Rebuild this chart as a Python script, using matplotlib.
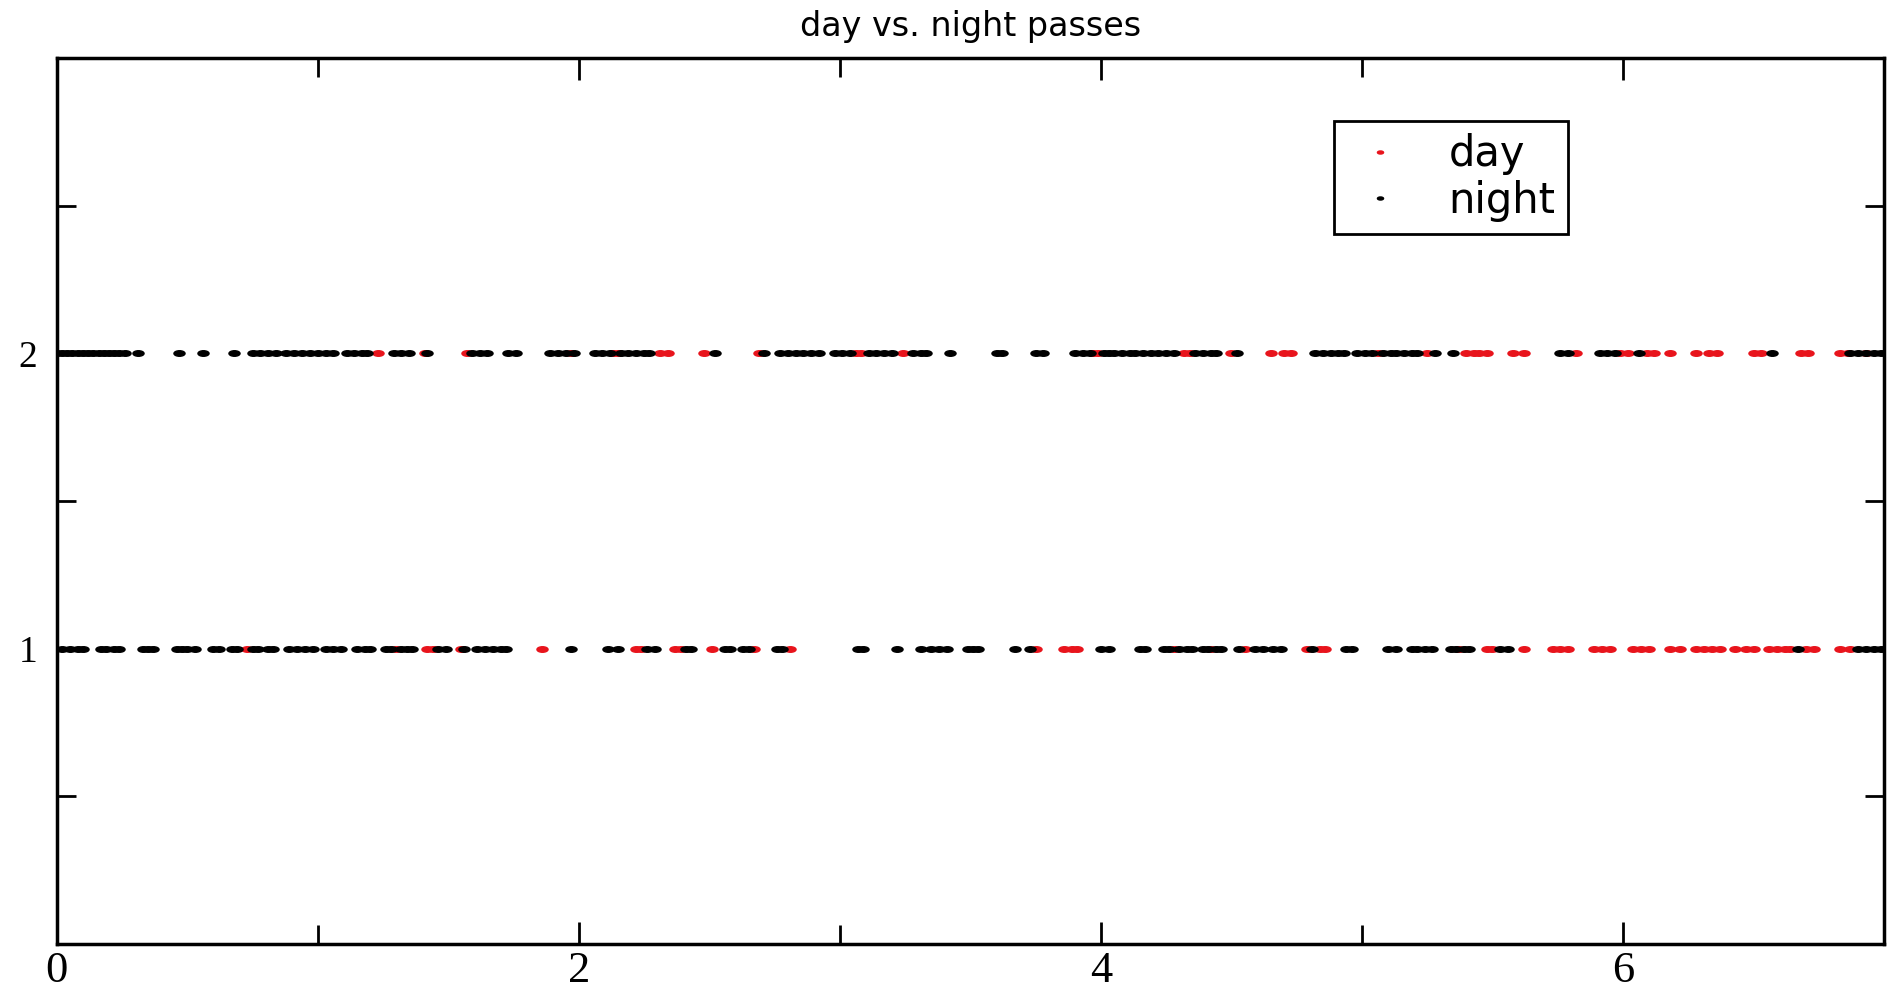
import matplotlib
matplotlib.use("Agg")
from matplotlib import pyplot as plt
from matplotlib.path import Path
from matplotlib.transforms import Affine2D
from matplotlib.ticker import MultipleLocator, FixedLocator

# pass times (x) on the "2" row and the "1" row, split by day / night
row2_night = [0.0, 0.02, 0.04, 0.06, 0.08, 0.10, 0.12, 0.14, 0.16, 0.18, 0.20, 0.22, 0.24, 0.26,
              0.31, 0.47, 0.56, 0.68, 0.75, 0.78, 0.81, 0.84, 0.88, 0.91, 0.94, 0.97, 1.00, 1.03,
              1.06, 1.11, 1.14, 1.17, 1.19, 1.29, 1.32, 1.35, 1.42, 1.59, 1.62, 1.65, 1.73, 1.76,
              1.89, 1.92, 1.95, 1.98, 2.06, 2.09, 2.12, 2.16, 2.19, 2.22, 2.25, 2.27, 2.52, 2.71,
              2.77, 2.80, 2.83, 2.86, 2.89, 2.92, 2.98, 3.01, 3.04, 3.11, 3.14, 3.17, 3.20, 3.28,
              3.31, 3.33, 3.42, 3.60, 3.62, 3.75, 3.78, 3.90, 3.93, 3.96, 4.01, 4.03, 4.05, 4.08,
              4.11, 4.13, 4.16, 4.19, 4.22, 4.25, 4.28, 4.36, 4.39, 4.42, 4.44, 4.52, 4.82, 4.85,
              4.88, 4.91, 4.93, 4.98, 5.01, 5.04, 5.08, 5.11, 5.13, 5.16, 5.19, 5.21, 5.28, 5.35,
              5.76, 5.79, 5.91, 5.94, 5.97, 6.06, 6.57, 6.87, 6.90, 6.93, 6.96, 6.99]
row2_day = [1.23, 1.41, 1.57, 1.97, 2.13, 2.15, 2.31, 2.34, 2.48, 2.69, 3.06, 3.08, 3.24, 3.97,
            3.99, 4.32, 4.34, 4.50, 4.65, 4.70, 4.73, 5.06, 5.25, 5.40, 5.43, 5.45, 5.48, 5.58,
            5.62, 5.82, 5.99, 6.02, 6.09, 6.12, 6.18, 6.28, 6.33, 6.36, 6.50, 6.53, 6.68, 6.71,
            6.83, 6.86, 6.93]
row1_night = [0.02, 0.05, 0.08, 0.10, 0.17, 0.19, 0.22, 0.24, 0.33, 0.35, 0.37, 0.46, 0.48, 0.50,
              0.53, 0.60, 0.62, 0.67, 0.69, 0.75, 0.77, 0.81, 0.83, 0.89, 0.92, 0.95, 0.98, 1.03,
              1.06, 1.09, 1.15, 1.18, 1.20, 1.26, 1.28, 1.32, 1.34, 1.36, 1.46, 1.49, 1.56, 1.61,
              1.64, 1.67, 1.70, 1.72, 1.97, 2.11, 2.15, 2.26, 2.29, 2.41, 2.43, 2.56, 2.58, 2.63,
              2.65, 2.76, 2.78, 3.07, 3.09, 3.22, 3.31, 3.35, 3.38, 3.41, 3.49, 3.51, 3.53, 3.67,
              3.73, 4.00, 4.03, 4.15, 4.17, 4.24, 4.26, 4.30, 4.33, 4.35, 4.39, 4.41, 4.44, 4.46,
              4.53, 4.59, 4.62, 4.66, 4.69, 4.81, 4.94, 4.96, 5.10, 5.13, 5.19, 5.21, 5.24, 5.27,
              5.34, 5.36, 5.39, 5.41, 5.53, 5.56, 6.67, 6.90, 6.93, 6.96, 6.99]
row1_day = [0.73, 1.30, 1.42, 1.44, 1.55, 1.86, 2.22, 2.24, 2.37, 2.39, 2.51, 2.67, 2.81, 3.75,
            3.86, 3.89, 3.91, 4.28, 4.42, 4.55, 4.79, 4.84, 4.86, 5.37, 5.48, 5.50, 5.62, 5.73,
            5.76, 5.79, 5.89, 5.92, 5.95, 6.04, 6.07, 6.10, 6.18, 6.22, 6.28, 6.31, 6.34, 6.37,
            6.43, 6.47, 6.50, 6.56, 6.59, 6.62, 6.64, 6.70, 6.73, 6.83, 6.87]

x_ticks = [0, 2, 4, 6]
y_ticks = [1, 2]

# flat dot, the source picture is stretched sideways
dot = Path.unit_circle().transformed(Affine2D().scale(1.0, 0.5))

fig = plt.figure(figsize=(18.92, 9.9), dpi=100)
ax = fig.add_axes([0.030, 0.0465, 0.9658, 0.8949])

ax.plot(row2_day, [2] * len(row2_day), ls="none", marker=dot, ms=8, color="#e8141c", label="day")
ax.plot(row1_day, [1] * len(row1_day), ls="none", marker=dot, ms=8, color="#e8141c")
ax.plot(row2_night, [2] * len(row2_night), ls="none", marker=dot, ms=8, color="black", label="night")
ax.plot(row1_night, [1] * len(row1_night), ls="none", marker=dot, ms=8, color="black")

ax.set_xlim(0, 7)
ax.set_ylim(0, 3)
ax.xaxis.set_major_locator(FixedLocator(x_ticks))
ax.xaxis.set_minor_locator(MultipleLocator(1))
ax.yaxis.set_major_locator(FixedLocator(y_ticks))
ax.yaxis.set_minor_locator(MultipleLocator(0.5))

ax.tick_params(which="both", direction="in", top=True, right=True, width=2, color="black")
ax.tick_params(which="major", length=16)
ax.tick_params(which="minor", length=14)
ax.tick_params(axis="x", which="major", labelsize=32, pad=5)
ax.tick_params(axis="y", which="major", labelsize=27, pad=14)
for lbl in ax.get_xticklabels() + ax.get_yticklabels():
    lbl.set_family("Liberation Serif")

for sp in ax.spines.values():
    sp.set_linewidth(2.5)

ax.set_title("day vs. night passes", fontsize=24, family="DejaVu Sans", pad=16)

leg = ax.legend(loc="upper left", bbox_to_anchor=(0.699, 0.929), fancybox=False, framealpha=1,
                edgecolor="black", prop={"family": "DejaVu Sans", "size": 30},
                markerscale=0.55, handlelength=1.6, handletextpad=0.85, borderpad=0.3,
                labelspacing=0.1, borderaxespad=0)
leg.get_frame().set_linewidth(2)

fig.savefig("out.png", dpi=100)
